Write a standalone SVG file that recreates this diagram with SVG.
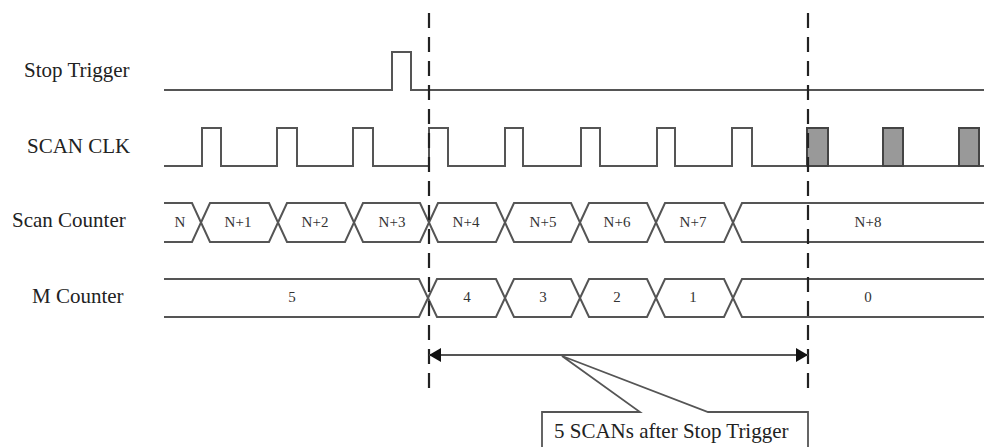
<svg xmlns="http://www.w3.org/2000/svg" width="984" height="447" viewBox="0 0 984 447">
<style>
.lbl{font-family:"Liberation Serif","Times New Roman",serif;font-size:21px;fill:#222}
.bl{font-family:"Liberation Serif","Times New Roman",serif;font-size:15px;fill:#333;text-anchor:middle}
.sig{fill:none;stroke:#555;stroke-width:2}
.sh{fill:#999;stroke:#444;stroke-width:2}
.dash{stroke:#222;stroke-width:2.2;stroke-dasharray:15 9;fill:none}
.arr{stroke:#555;stroke-width:2;fill:none}
</style>
<defs>
<marker id="ah" viewBox="0 0 12 14" refX="12" refY="7" markerWidth="12" markerHeight="14" markerUnits="userSpaceOnUse" orient="auto-start-reverse">
<path d="M0,0 L12,7 L0,14 Z" fill="#111"/>
</marker>
</defs>
<rect width="984" height="447" fill="#fff"/>
<g id="labels">
<text class="lbl" x="24" y="77">Stop Trigger</text>
<text class="lbl" x="27" y="153">SCAN CLK</text>
<text class="lbl" x="12" y="227">Scan Counter</text>
<text class="lbl" x="32" y="303">M Counter</text>
</g>
<g id="stop-trigger">
<path class="sig" d="M164,90 H392 V52 H411 V90 H984"/>
</g>
<g id="scan-clk">
<path class="sig" d="M164,166 H202 V128 H221 V166 H277 V128 H297 V166 H353 V128 H373 V166 H429 V128 H448 V166 H505 V128 H523 V166 H581 V128 H600 V166 H657 V128 H675 V166 H732 V128 H752 V166 H984"/>
<rect class="sh" x="807" y="128" width="21" height="38"/>
<rect class="sh" x="883" y="128" width="20" height="38"/>
<rect class="sh" x="959" y="128" width="20" height="38"/>
</g>
<g id="scan-counter">
<path class="sig" d="M164,203 H192 L201,222.5 L192,242 H164"/>
<path class="sig" d="M201,222.5 L210,203 H269 L278,222.5 L269,242 H210 Z"/>
<path class="sig" d="M278,222.5 L287,203 H345 L354,222.5 L345,242 H287 Z"/>
<path class="sig" d="M354,222.5 L363,203 H420 L429,222.5 L420,242 H363 Z"/>
<path class="sig" d="M429,222.5 L438,203 H496 L505,222.5 L496,242 H438 Z"/>
<path class="sig" d="M505,222.5 L514,203 H571 L580,222.5 L571,242 H514 Z"/>
<path class="sig" d="M580,222.5 L589,203 H647 L656,222.5 L647,242 H589 Z"/>
<path class="sig" d="M656,222.5 L665,203 H724 L733,222.5 L724,242 H665 Z"/>
<path class="sig" d="M984,203 H742 L733,222.5 L742,242 H984"/>
<text class="bl" x="180" y="227">N</text>
<text class="bl" x="238" y="227">N+1</text>
<text class="bl" x="315" y="227">N+2</text>
<text class="bl" x="392" y="227">N+3</text>
<text class="bl" x="466" y="227">N+4</text>
<text class="bl" x="543" y="227">N+5</text>
<text class="bl" x="617" y="227">N+6</text>
<text class="bl" x="693" y="227">N+7</text>
<text class="bl" x="868" y="227">N+8</text>
</g>
<g id="m-counter">
<path class="sig" d="M164,279 H419 L428,298 L419,317 H164"/>
<path class="sig" d="M428,298 L437,279 H496 L505,298 L496,317 H437 Z"/>
<path class="sig" d="M505,298 L514,279 H571 L580,298 L571,317 H514 Z"/>
<path class="sig" d="M580,298 L589,279 H647 L656,298 L647,317 H589 Z"/>
<path class="sig" d="M656,298 L665,279 H724 L733,298 L724,317 H665 Z"/>
<path class="sig" d="M984,279 H742 L733,298 L742,317 H984"/>
<text class="bl" x="292" y="302">5</text>
<text class="bl" x="467" y="302">4</text>
<text class="bl" x="543" y="302">3</text>
<text class="bl" x="617" y="302">2</text>
<text class="bl" x="693" y="302">1</text>
<text class="bl" x="868" y="302">0</text>
</g>
<g id="connectors">
<line class="dash" x1="429" y1="13" x2="429" y2="394"/>
<line class="dash" x1="808" y1="13" x2="808" y2="394"/>
<line class="arr" x1="429" y1="355" x2="808" y2="355" marker-start="url(#ah)" marker-end="url(#ah)"/>
</g>
<g id="callout">
<path d="M542,449 V412 H640 L562,356 L708,412 H808 V449" fill="#fff" stroke="#555" stroke-width="1.8"/>
<text x="554" y="438" style="font-family:'Liberation Serif','Times New Roman',serif;font-size:21px;fill:#222">5 SCANs after Stop Trigger</text>
</g>
</svg>
